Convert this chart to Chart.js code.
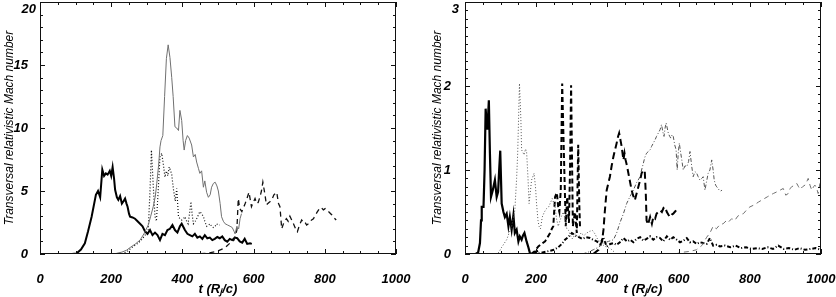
<!DOCTYPE html>
<html>
<head>
<meta charset="utf-8">
<script src="https://cdn.jsdelivr.net/npm/chart.js@4/dist/chart.umd.min.js"></script>
<style>
  html, body { margin: 0; padding: 0; background: #fff; overflow: hidden; }
  #left { position: absolute; left: 0; top: 0; }
  #right { position: absolute; left: 418px; top: 0; }
</style>
</head>
<body>
<canvas id="left" width="418" height="297"></canvas>
<canvas id="right" width="418" height="297"></canvas>
<script>
// ---- left panel ----
const lSolidT = [0, 90, 103, 115, 126, 135, 145, 157, 163, 169, 175, 180, 185, 190, 196, 200, 204, 208, 211, 216, 220, 225, 230, 235, 239, 243, 246, 250, 253, 260, 267, 274, 281, 288, 295, 302, 309, 316, 323, 330, 337, 344, 351, 358, 365, 372, 379, 386, 393, 398, 407, 414, 421, 428, 435, 442, 449, 456, 463, 470, 477, 484, 491, 498, 505, 512, 519, 526, 533, 540, 547, 554, 561, 568, 575, 582, 590, 595];
const lSolidV = [0, 0, 0.05, 0.35, 0.85, 1.8, 2.96, 4.7, 5.0, 4.5, 6.7, 6.2, 6.4, 6.3, 6.6, 6.2, 6.9, 6.0, 5.1, 4.5, 4.3, 4.6, 4.0, 4.2, 4.4, 4.0, 3.75, 3.2, 2.96, 2.9, 2.8, 2.6, 2.4, 2.2, 1.8, 1.6, 1.9, 1.5, 1.7, 1.5, 1.1, 1.6, 1.5, 1.9, 2.0, 2.3, 1.9, 1.7, 2.2, 2.4, 1.9, 1.6, 1.5, 1.4, 1.6, 1.3, 1.4, 1.2, 1.5, 1.25, 1.3, 1.1, 1.2, 1.35, 1.25, 1.4, 1.1, 0.98, 1.2, 1.1, 1.3, 1.25, 1.0, 0.9, 1.2, 0.8, 0.85, 0.8];

const lThinT = [200, 215, 230, 243, 255, 268, 281, 292, 304, 311, 318, 324, 328, 333, 337, 340, 345, 350, 355, 360, 365, 370, 374, 379, 384, 389, 393, 398, 402, 405, 409, 414, 419, 426, 431, 436, 440, 445, 449, 454, 459, 463, 468, 473, 478, 482, 487, 492, 497, 501, 506, 510, 515, 520, 527, 534, 540, 545, 548, 553, 558, 562, 566];
const lThinV = [0, 0.05, 0.15, 0.3, 0.55, 0.8, 1.1, 1.6, 2.3, 3.0, 3.75, 4.6, 5.6, 7.0, 8.5, 9.0, 9.4, 12.5, 15.5, 16.6, 15.6, 14.0, 12.5, 10.1, 10.0, 9.8, 11.4, 10.6, 9.0, 8.25, 9.0, 9.4, 9.2, 8.65, 7.7, 7.9, 7.3, 6.8, 6.4, 6.6, 5.3, 5.8, 4.9, 4.5, 4.7, 5.3, 5.6, 5.7, 5.4, 5.0, 4.0, 2.96, 2.6, 2.4, 2.3, 2.2, 2.1, 1.8, 1.6, 2.2, 2.0, 2.8, 3.2];

const lDotT = [230, 245, 257, 270, 281, 293, 304, 309, 313, 318, 323, 327, 332, 337, 342, 347, 351, 355, 359, 363, 367, 370, 375, 380, 384, 389, 393, 398, 403, 407, 412, 416, 420, 424, 428, 431, 436, 440, 445, 449, 454, 459, 464, 468, 473, 478, 482, 487, 492, 496, 501, 505];
const lDotV = [0, 0.2, 0.5, 0.75, 1.0, 1.4, 1.9, 5.0, 8.25, 5.5, 3.0, 2.6, 5.0, 7.7, 8.0, 7.0, 6.1, 6.6, 6.2, 6.9, 6.6, 6.3, 5.1, 4.2, 5.2, 2.96, 2.8, 2.7, 2.8, 2.96, 2.6, 2.4, 3.2, 4.15, 3.0, 2.4, 2.6, 2.8, 3.1, 3.36, 3.2, 2.96, 2.5, 2.2, 2.3, 2.4, 2.2, 2.1, 2.2, 2.4, 2.3, 2.3];

const lDashT = [400, 440, 468, 496, 520, 533, 545, 553, 557, 561, 567, 570, 575, 580, 587, 594, 599, 604, 609, 613, 618, 622, 626, 632, 636, 640, 644, 651, 657, 665, 670, 674, 679, 685, 692, 697, 702, 707, 712, 718, 723, 729, 735, 740, 744, 749, 754, 759, 763, 768, 772, 778, 785, 790, 796, 801, 807, 813, 820, 825, 832];
const lDashV = [0, 0.02, 0.05, 0.2, 0.5, 0.85, 1.1, 1.9, 4.4, 3.6, 3.36, 3.6, 3.9, 4.3, 4.9, 3.75, 4.1, 4.4, 4.0, 4.1, 4.55, 5.0, 5.7, 4.7, 3.9, 4.0, 4.1, 4.3, 4.7, 4.9, 4.0, 3.75, 2.0, 2.5, 2.8, 2.6, 3.0, 2.7, 2.4, 2.0, 1.77, 2.3, 2.7, 2.5, 2.55, 2.3, 2.4, 2.6, 2.7, 2.8, 3.0, 3.3, 3.6, 3.7, 3.5, 3.6, 3.45, 3.3, 3.1, 2.9, 2.7];

// ---- right panel ----
const rSolidT = [0, 30, 37, 42, 45, 47, 52, 55, 58, 60, 63, 67, 70, 73, 78, 84, 89, 93, 96, 99, 103, 108, 112, 117, 122, 126, 131, 136, 140, 145, 150, 154, 159, 163, 167, 173, 178, 183, 195, 200, 205];
const rSolidV = [0, 0, 0.02, 0.13, 0.4, 0.56, 0.56, 1.0, 1.73, 1.6, 1.48, 1.83, 1.2, 0.68, 0.76, 0.88, 0.68, 0.74, 1.0, 1.23, 0.6, 0.5, 0.44, 0.48, 0.33, 0.44, 0.29, 0.46, 0.25, 0.29, 0.15, 0.21, 0.17, 0.22, 0.25, 0.15, 0.08, 0, 0, 0.03, 0.04];

const rDotT = [85, 95, 103, 117, 131, 140, 145, 148, 153, 157, 159, 166, 170, 173, 177, 180, 187, 194, 198, 201, 205, 208, 212, 217, 223, 229, 235, 239, 245, 250, 253, 257, 262, 267, 271, 276, 281, 286, 291, 296, 302, 310, 318, 326, 334, 342, 350, 358, 365, 372, 380, 390, 400, 410, 420];
const rDotV = [0, 0.02, 0.08, 0.17, 0.33, 0.52, 0.9, 1.2, 2.03, 1.6, 1.24, 1.18, 1.25, 1.22, 0.9, 0.6, 0.88, 0.96, 0.8, 0.6, 0.4, 0.33, 0.3, 0.44, 0.5, 0.54, 0.56, 0.6, 0.66, 0.6, 0.56, 0.42, 0.33, 0.4, 0.45, 0.5, 0.42, 0.3, 0.28, 0.22, 0.18, 0.24, 0.2, 0.25, 0.22, 0.25, 0.27, 0.28, 0.24, 0.18, 0.14, 0.1, 0.08, 0.06, 0.02];

const rDashT = [185, 195, 206, 215, 225, 232, 239, 244, 248, 253, 258, 262, 265, 269, 273, 276, 278, 283, 287, 292, 295, 298, 301, 303, 309, 314, 318, 321, 323, 326];
const rDashV = [0, 0.03, 0.09, 0.12, 0.15, 0.2, 0.25, 0.3, 0.33, 0.68, 0.73, 0.55, 0.5, 0.76, 2.03, 1.5, 1.16, 0.33, 0.68, 0.37, 1.0, 2.01, 1.0, 0.33, 0.5, 0.25, 1.3, 0.6, 0.33, 0.3];

const rDashDotT = [190, 210, 230, 250, 262, 272, 281, 290, 300, 310, 320, 330, 340, 351, 360, 370, 380, 388, 398, 408, 417, 426, 435, 445, 455, 464, 473, 482, 492, 501, 510, 520, 529, 538, 548, 557, 567, 576, 585, 595, 604, 614, 623, 632, 641, 651, 660, 669, 679, 688, 697, 707, 716, 730, 745, 760, 775, 790, 805, 820, 835, 850, 865, 880, 895, 910, 925, 940, 955, 970, 985, 1000];
const rDashDotV = [0, 0.01, 0.03, 0.05, 0.08, 0.12, 0.17, 0.2, 0.25, 0.22, 0.2, 0.18, 0.2, 0.19, 0.17, 0.15, 0.12, 0.2, 0.09, 0.12, 0.13, 0.11, 0.14, 0.19, 0.15, 0.17, 0.14, 0.18, 0.2, 0.16, 0.18, 0.21, 0.17, 0.2, 0.19, 0.15, 0.21, 0.17, 0.2, 0.17, 0.14, 0.16, 0.19, 0.14, 0.15, 0.12, 0.14, 0.13, 0.12, 0.19, 0.1, 0.11, 0.09, 0.1, 0.08, 0.1, 0.07, 0.08, 0.06, 0.07, 0.06, 0.08, 0.06, 0.1, 0.06, 0.07, 0.05, 0.07, 0.05, 0.06, 0.07, 0.05];

const rLongT = [360, 375, 385, 389, 393, 398, 403, 407, 412, 417, 422, 426, 430, 433, 437, 440, 445, 448, 451, 455, 459, 464, 468, 472, 477, 482, 487, 492, 496, 501, 505, 508, 510, 514, 520, 525, 529, 534, 538, 543, 548, 553, 558, 562, 567, 571, 576, 581, 585, 589, 593];
const rLongV = [0, 0.05, 0.15, 0.29, 0.52, 0.76, 0.85, 0.92, 1.05, 1.16, 1.25, 1.32, 1.4, 1.44, 1.35, 1.28, 1.12, 1.2, 1.12, 1.05, 0.96, 0.85, 0.76, 0.7, 0.64, 0.72, 0.8, 0.88, 0.96, 1.0, 0.98, 0.7, 0.4, 0.35, 0.44, 0.36, 0.44, 0.42, 0.48, 0.5, 0.52, 0.5, 0.55, 0.56, 0.5, 0.47, 0.44, 0.47, 0.48, 0.5, 0.52];

const rThinDashDotT = [330, 345, 360, 375, 389, 403, 417, 426, 435, 445, 454, 463, 473, 482, 492, 496, 501, 505, 510, 515, 520, 524, 529, 534, 538, 543, 548, 552, 556, 559, 562, 565, 568, 571, 575, 578, 582, 585, 589, 593, 596, 599, 602, 606, 609, 613, 618, 623, 628, 632, 637, 641, 646, 651, 655, 660, 665, 669, 674, 678, 683, 688, 693, 697, 700, 704, 707, 711, 714, 718, 722];
const rThinDashDotV = [0, 0.02, 0.05, 0.08, 0.13, 0.15, 0.17, 0.25, 0.37, 0.48, 0.6, 0.68, 0.76, 0.85, 0.92, 1.0, 1.08, 1.15, 1.2, 1.22, 1.24, 1.28, 1.32, 1.36, 1.4, 1.44, 1.48, 1.54, 1.45, 1.4, 1.5, 1.56, 1.5, 1.44, 1.4, 1.38, 1.42, 1.4, 1.3, 1.24, 1.0, 1.2, 1.32, 1.2, 1.12, 1.0, 1.05, 1.04, 1.1, 1.22, 1.04, 0.92, 0.98, 0.96, 0.92, 0.88, 0.9, 0.92, 0.76, 0.85, 0.96, 1.0, 1.12, 1.0, 0.88, 0.82, 0.8, 0.78, 0.76, 0.75, 0.76];

const rThinDashT = [590, 610, 630, 650, 665, 672, 679, 688, 697, 706, 716, 725, 735, 740, 749, 758, 766, 774, 782, 790, 800, 810, 818, 825, 833, 841, 849, 857, 866, 876, 885, 894, 901, 908, 913, 918, 925, 932, 937, 941, 948, 955, 960, 964, 969, 974, 979, 983, 988, 992, 997, 1000];
const rThinDashV = [0, 0.02, 0.03, 0.05, 0.1, 0.15, 0.2, 0.25, 0.33, 0.3, 0.35, 0.36, 0.4, 0.38, 0.42, 0.4, 0.45, 0.47, 0.48, 0.52, 0.56, 0.58, 0.6, 0.62, 0.64, 0.66, 0.68, 0.7, 0.72, 0.74, 0.76, 0.78, 0.7, 0.72, 0.78, 0.8, 0.82, 0.84, 0.8, 0.77, 0.8, 0.82, 0.86, 0.9, 0.82, 0.76, 0.8, 0.82, 0.78, 0.72, 0.84, 0.82];

const xTicks = [0, 200, 400, 600, 800, 1000];
const yTitle = 'Transversal relativistic Mach number';
const xTitle = 't (Rⱼ/c)';

function pts(t, v) {
  return t.map((x, i) => ({ x: x, y: v[i] }));
}

function line(t, v, color, width, dash) {
  return {
    data: pts(t, v),
    borderColor: color,
    borderWidth: width,
    borderDash: dash || [],
    pointRadius: 0,
    tension: 0,
    fill: false
  };
}

const tickFont = { family: 'Liberation Sans', size: 13, weight: 'bold', style: 'italic' };

// box around the plot with inward ticks on all four sides, top y label drawn inside the page
const frame = {
  id: 'frame',
  afterDraw(chart, args, o) {
    const { ctx, chartArea: a, scales: { x, y } } = chart;
    ctx.save();
    ctx.strokeStyle = '#111';
    ctx.lineWidth = 1;
    ctx.strokeRect(a.left + 0.5, a.top + 0.5, a.right - a.left - 1, a.bottom - a.top - 1);
    ctx.beginPath();
    const nx = Math.round((x.max - x.min) / o.xMinor);
    for (let i = 0; i <= nx; i++) {
      const px = Math.round(x.getPixelForValue(x.min + i * o.xMinor)) + 0.5;
      const len = i % o.xEvery === 0 ? 5 : 3;
      ctx.moveTo(px, a.bottom); ctx.lineTo(px, a.bottom - len);
      ctx.moveTo(px, a.top); ctx.lineTo(px, a.top + len);
    }
    const ny = Math.round((y.max - y.min) / o.yMinor);
    for (let i = 0; i <= ny; i++) {
      const py = Math.round(y.getPixelForValue(y.min + i * o.yMinor)) + 0.5;
      const len = i % o.yEvery === 0 ? 5 : 3;
      ctx.moveTo(a.left, py); ctx.lineTo(a.left + len, py);
      ctx.moveTo(a.right, py); ctx.lineTo(a.right - len, py);
    }
    ctx.stroke();
    ctx.fillStyle = '#000';
    ctx.font = 'italic bold 13px "Liberation Sans"';
    ctx.textAlign = 'right';
    ctx.textBaseline = 'middle';
    ctx.fillText(String(y.max), a.left - o.yPad, a.top + 7);
    ctx.restore();
  }
};

function makeChart(id, datasets, yMax, yStep, yW, rightPad, titlePad, yPad, yMinor, yEvery) {
  return new Chart(id, {
    type: 'line',
    data: { datasets: datasets },
    plugins: [frame],
    options: {
      responsive: false,
      animation: false,
      events: [],
      layout: { padding: { top: 2, right: rightPad, left: 0, bottom: 0 } },
      plugins: {
        legend: { display: false },
        tooltip: { enabled: false },
        frame: { xMinor: 50, xEvery: 4, yMinor: yMinor, yEvery: yEvery, yPad: yPad }
      },
      scales: {
        x: {
          type: 'linear',
          min: 0,
          max: 1000,
          afterBuildTicks: s => { s.ticks = xTicks.map(v => ({ value: v })); },
          afterFit: s => { s.height = 43; s.paddingLeft = 0; s.paddingRight = 0; },
          grid: { display: false },
          border: { display: false },
          ticks: {
            color: '#000',
            font: tickFont,
            padding: 10,
            maxRotation: 0,
            autoSkip: false,
            callback: v => String(v)
          },
          title: {
            display: true,
            text: xTitle,
            color: '#000',
            font: { family: 'Liberation Sans', size: 13, weight: 'bold', style: 'italic' },
            padding: { top: 0, bottom: 0 }
          }
        },
        y: {
          min: 0,
          max: yMax,
          afterFit: s => { s.width = yW; s.paddingTop = 0; s.paddingBottom = 0; },
          grid: { display: false },
          border: { display: false },
          ticks: {
            stepSize: yStep,
            color: '#000',
            font: tickFont,
            padding: yPad,
            callback: v => (v === yMax ? '' : String(v))
          },
          title: {
            display: true,
            text: yTitle,
            color: '#000',
            font: { family: 'Liberation Sans', size: 12, style: 'italic' },
            padding: { top: titlePad, bottom: 0 }
          }
        }
      }
    }
  });
}

makeChart('left', [
  line(lThinT, lThinV, '#707070', 1),
  line(lDotT, lDotV, '#111', 1.2, [1, 2]),
  line(lDashT, lDashV, '#111', 1.3, [5, 4]),
  line(lSolidT, lSolidV, '#000', 2)
], 20, 5, 40, 22, 2, 4, 1, 5);

makeChart('right', [
  line(rThinDashT, rThinDashV, '#707070', 1, [5, 4]),
  line(rThinDashDotT, rThinDashDotV, '#555', 1, [4, 2, 1, 2]),
  line(rDotT, rDotV, '#555', 1, [1, 2]),
  line(rDashDotT, rDashDotV, '#000', 2, [4, 2, 1, 2]),
  line(rLongT, rLongV, '#000', 2, [7, 4]),
  line(rDashT, rDashV, '#000', 2, [5, 3]),
  line(rSolidT, rSolidV, '#000', 2.2)
], 3, 1, 47, 15, 12, 6, 0.1, 10);
</script>
</body>
</html>
